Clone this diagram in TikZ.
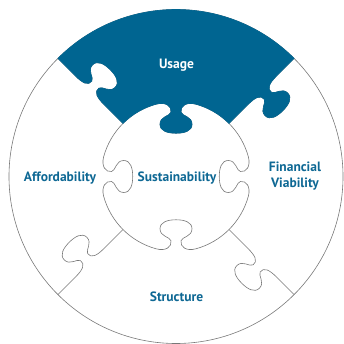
\documentclass[tikz,border=0pt]{standalone}
\usepackage{fontspec}
\setsansfont{PT Sans}
\usepackage{tikz}
\definecolor{usageblue}{RGB}{0, 101, 145}
\definecolor{labelblue}{RGB}{14, 104, 148}
\definecolor{edgegray}{RGB}{120, 120, 120}
\tikzset{
  font=\sffamily\bfseries,
  pieceedge/.style={draw=edgegray, line width=0.6pt},
  usagepiece/.style={fill=usageblue, draw=usageblue, line width=0.6pt},
  piecelabel/.style={
    text=labelblue, align=center,
    font=\sffamily\bfseries\fontsize{13.5}{16}\selectfont
  }
}
% one jigsaw knob, local frame: edge along x, knob towards +y
\newcommand{\knob}[1]{-- (-20,0) .. controls (-10,#1) and (-4,2) .. (-5,8)
  .. controls (-6,12) and (-16,12) .. (-16,20) .. controls (-16,27) and (-8,29) .. (0,29)
  .. controls (8,29) and (16,27) .. (16,20) .. controls (16,12) and (6,12) .. (5,8)
  .. controls (4,2) and (10,#1) .. (20,0)}

\begin{document}
\begin{tikzpicture}[x=1pt, y=1pt]
  \useasboundingbox (-176,-167.5) rectangle (167,176.5);

  % Outer ring
  \draw[pieceedge] (0,0) circle[radius=167];

  % Centre piece with four knobs coming in
  \draw[pieceedge] (15.47:75) arc[start angle=15.47, end angle=74.53, radius=75]
    {[shift={(90:72.28)}, rotate=180] \knob{-2.7}}
    arc[start angle=105.47, end angle=164.53, radius=75]
    {[shift={(180:72.28)}, rotate=270] \knob{-2.7}}
    arc[start angle=195.47, end angle=254.53, radius=75]
    {[shift={(270:72.28)}, rotate=360] \knob{-2.7}}
    arc[start angle=285.47, end angle=344.53, radius=75]
    {[shift={(0:72.28)}, rotate=90] \knob{-2.7}} -- cycle;

  % Radial cuts, every knob turns clockwise
  \foreach \a in {45,135,225,315}
    \draw[pieceedge] (\a:75) -- (\a:102)
      {[shift={(\a:122)}, rotate=\a, yscale=-1] \knob{0}} -- (\a:167);

  % Usage piece (top)
  \path[usagepiece] (45:167) arc[start angle=45, end angle=135, radius=167]
    -- (135:142) {[shift={(135:122)}, rotate=315] \knob{0}} -- (135:75)
    arc[start angle=135, end angle=105.47, radius=75]
    {[shift={(90:72.28)}, rotate=180, xscale=-1] \knob{-2.7}}
    arc[start angle=74.53, end angle=45, radius=75]
    -- (45:102) {[shift={(45:122)}, rotate=45, yscale=-1] \knob{0}} -- cycle;

  % Labels
  \node[piecelabel, text=white] (usage) at (0.5,111.5) {Usage};
  \node[piecelabel] (afford) at (-116,-1.5) {Affordability};
  \node[piecelabel] (sustain) at (1,-1.5) {Sustainability};
  \node[piecelabel] (finvia) at (119,0.5) {Financial\\Viability};
  \node[piecelabel] (structure) at (0.5,-120.5) {Structure};
\end{tikzpicture}
\end{document}
